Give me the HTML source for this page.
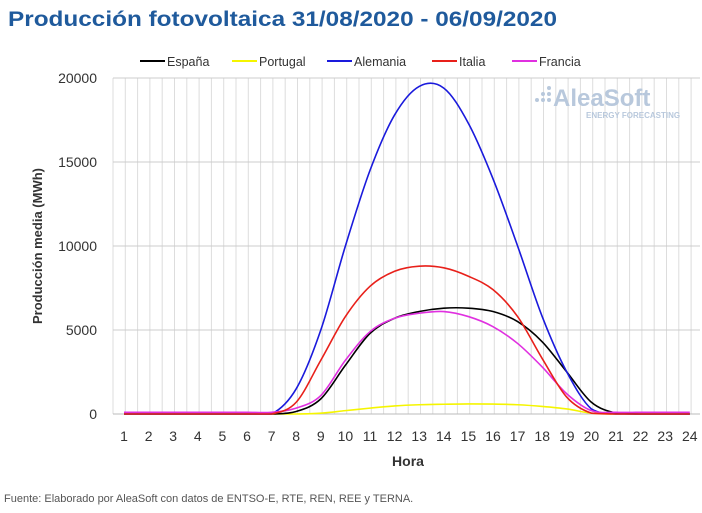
<!DOCTYPE html><html><head><meta charset="utf-8"><style>
body{margin:0;background:#fff;width:702px;height:508px;overflow:hidden;font-family:"Liberation Sans",sans-serif}
</style></head><body>
<svg id="s" width="702" height="508" xmlns="http://www.w3.org/2000/svg" font-family="Liberation Sans, sans-serif">
<text x="8" y="26" font-size="21" font-weight="bold" fill="#1f5a9c" textLength="549" lengthAdjust="spacingAndGlyphs">Producción fotovoltaica 31/08/2020 - 06/09/2020</text>
<g font-size="12.5" fill="#333">
<line x1="140" y1="61" x2="165" y2="61" stroke="#000" stroke-width="2"/><text x="167" y="66">España</text>
<line x1="232" y1="61" x2="257" y2="61" stroke="#f5f500" stroke-width="2"/><text x="259" y="66">Portugal</text>
<line x1="327" y1="61" x2="352" y2="61" stroke="#1a1adc" stroke-width="2"/><text x="354" y="66">Alemania</text>
<line x1="432" y1="61" x2="457" y2="61" stroke="#e8201a" stroke-width="2"/><text x="459" y="66">Italia</text>
<line x1="512" y1="61" x2="537" y2="61" stroke="#e030e0" stroke-width="2"/><text x="539" y="66">Francia</text>
</g>
<g id="grid"></g>
<g font-size="14" fill="#333" text-anchor="end">
<text x="97" y="83">20000</text><text x="97" y="167">15000</text><text x="97" y="251">10000</text><text x="97" y="335">5000</text><text x="97" y="419">0</text>
</g>
<g id="xl" font-size="14" fill="#333" text-anchor="middle"></g>
<text x="408" y="466" font-size="14" font-weight="bold" fill="#333" text-anchor="middle">Hora</text>
<text transform="translate(42,246) rotate(-90)" font-size="13" font-weight="bold" fill="#333" text-anchor="middle">Producción media (MWh)</text>
<text x="553" y="106" font-size="24" font-weight="bold" fill="#b8c8dc">AleaSoft</text>
<circle cx="537" cy="100" r="2" fill="#b8c8dc"/><circle cx="543" cy="100" r="2" fill="#b8c8dc"/><circle cx="549" cy="100" r="2" fill="#b8c8dc"/><circle cx="549" cy="94" r="2" fill="#b8c8dc"/><circle cx="549" cy="88" r="2" fill="#b8c8dc"/><circle cx="543" cy="94" r="2" fill="#b8c8dc"/>
<text x="586" y="118" font-size="8" font-weight="bold" fill="#b8c8dc">ENERGY FORECASTING</text>
<g id="ser" fill="none" stroke-width="1.6"></g>
<text x="4" y="502" font-size="11" fill="#555">Fuente: Elaborado por AleaSoft con datos de ENTSO-E, RTE, REN, REE y TERNA.</text>
</svg>
<script>
function X(h){return 124+(h-1)*24.6}function Y(v){return 414-v*0.0168}
var g=document.getElementById('grid'),h='';
for(var x=113;x<=700;x+=12.3){h+='<line x1="'+x+'" y1="78" x2="'+x+'" y2="414" stroke="#ddd" stroke-width="1"/>'}
[78,162,246,330].forEach(function(y){h+='<line x1="113" y1="'+y+'" x2="700" y2="'+y+'" stroke="#ccc"/>'});
h+='<line x1="113" y1="414" x2="700" y2="414" stroke="#bbb"/>';
g.innerHTML=h;
var xl='';for(var i=1;i<=24;i++)xl+='<text x="'+X(i)+'" y="441">'+i+'</text>';
document.getElementById('xl').innerHTML=xl;
var S=[
["#f5f500",[0,0,0,0,0,0,0,0,50,200,350,480,550,580,600,590,550,450,300,50,0,0,0,0]],
["#000",[0,0,0,0,0,0,0,150,900,2900,4800,5700,6100,6300,6300,6100,5500,4300,2500,700,50,0,0,0]],
["#1a1adc",[0,0,0,0,0,0,0,1500,5000,10000,14500,17800,19500,19400,17300,14000,10000,5800,2500,300,0,0,0,0]],
["#e030e0",[100,100,100,100,100,100,100,350,1100,3200,4900,5700,6000,6100,5800,5200,4200,2800,1200,200,100,100,100,100]],
["#e8201a",[0,0,0,0,0,0,0,700,3200,5800,7600,8500,8800,8700,8200,7400,5800,3300,1000,50,0,0,0,0]]];
var out='';
S.forEach(function(s){var p=s[1].map(function(v,i){return [X(i+1),Y(v)]});
var d='M'+p[0][0]+','+p[0][1];
for(var i=0;i<p.length-1;i++){var p0=p[i-1]||p[i],p1=p[i],p2=p[i+1],p3=p[i+2]||p2;
var c1=[p1[0]+(p2[0]-p0[0])/6,p1[1]+(p2[1]-p0[1])/6],c2=[p2[0]-(p3[0]-p1[0])/6,p2[1]-(p3[1]-p1[1])/6];
c1[1]=Math.min(c1[1],414);c2[1]=Math.min(c2[1],414);
d+='C'+c1+' '+c2+' '+p2;}
out+='<path d="'+d+'" stroke="'+s[0]+'"/>';});
document.getElementById('ser').innerHTML=out;
</script>
</body></html>
